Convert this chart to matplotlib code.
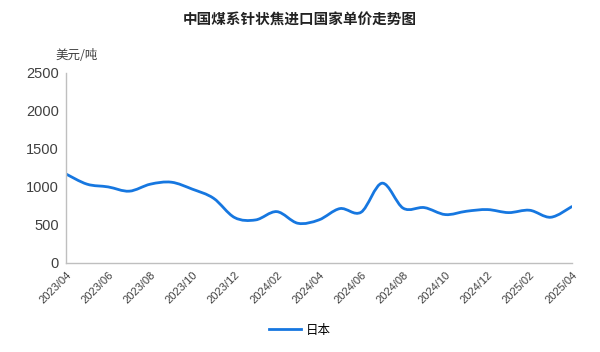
#!/usr/bin/env python3
"""China coal-based needle coke import unit price by country (Japan)."""
from __future__ import annotations

import matplotlib.pyplot as plt
from matplotlib.path import Path
from matplotlib.patches import PathPatch
from matplotlib.lines import Line2D

plt.rcParams["font.family"] = ["Noto Sans CJK SC", "DejaVu Sans"]

TITLE = "中国煤系针状焦进口国家单价走势图"
Y_UNIT = "美元/吨"
SERIES_NAME = "日本"
LINE_COLOR = "#1677e0"

MONTHS = [
    "2023/04", "2023/05", "2023/06", "2023/07", "2023/08", "2023/09", "2023/10",
    "2023/11", "2023/12", "2024/01", "2024/02", "2024/03", "2024/04", "2024/05",
    "2024/06", "2024/07", "2024/08", "2024/09", "2024/10", "2024/11", "2024/12",
    "2025/01", "2025/02", "2025/03", "2025/04",
]
PRICES = [
    1170, 1036, 1000, 944, 1036, 1062, 970, 851, 597, 566, 675, 522, 566, 715,
    667, 1049, 720, 728, 636, 680, 702, 662, 693, 601, 741,
]
Y_TICKS = [0, 500, 1000, 1500, 2000, 2500]


def smooth_path(xs, ys, tension=1 / 6):
    """Excel-like smoothed line as cubic Bezier segments through the points."""
    pts = list(zip(xs, ys))
    verts = [pts[0]]
    codes = [Path.MOVETO]
    n = len(pts)
    for i in range(n - 1):
        p0 = pts[i - 1] if i > 0 else pts[i]
        p1 = pts[i]
        p2 = pts[i + 1]
        p3 = pts[i + 2] if i + 2 < n else pts[i + 1]
        c1 = (p1[0] + (p2[0] - p0[0]) * tension, p1[1] + (p2[1] - p0[1]) * tension)
        c2 = (p2[0] - (p3[0] - p1[0]) * tension, p2[1] - (p3[1] - p1[1]) * tension)
        verts += [c1, c2, p2]
        codes += [Path.CURVE4] * 3
    return Path(verts, codes)


def main() -> None:
    fig = plt.figure(figsize=(6.0, 3.52), dpi=100)
    ax = fig.add_axes([0.11, 0.253, 0.843, 0.54])

    xs = list(range(len(MONTHS)))
    ax.add_patch(PathPatch(smooth_path(xs, PRICES), facecolor="none",
                           edgecolor=LINE_COLOR, linewidth=2.0, capstyle="round"))

    ax.set_xlim(0, len(MONTHS) - 1)
    ax.set_ylim(0, 2500)
    ax.set_yticks(Y_TICKS)
    ax.set_yticklabels([str(v) for v in Y_TICKS], fontsize=10.5, color="#404040",
                       family="Liberation Sans")
    ax.set_xticks(xs[::2])
    ax.set_xticklabels(MONTHS[::2], rotation=45, ha="right", rotation_mode="anchor",
                       fontsize=8, color="#404040", family="Liberation Sans")
    ax.tick_params(length=0, pad=5)

    for side in ("top", "right"):
        ax.spines[side].set_visible(False)
    for side in ("left", "bottom"):
        ax.spines[side].set_color("#bfbfbf")
        ax.spines[side].set_linewidth(1.0)

    fig.text(0.5, 0.945, TITLE, ha="center", va="center", fontsize=10.5,
             fontweight="bold", color="#222222")
    fig.text(0.092, 0.843, Y_UNIT, ha="left", va="center", fontsize=9, color="#404040")

    handle = Line2D([], [], color=LINE_COLOR, linewidth=2.0)
    fig.legend([handle], [SERIES_NAME], loc="center", bbox_to_anchor=(0.5, 0.062),
               frameon=False, fontsize=9, handlelength=2.6, handletextpad=0.4)

    fig.savefig("out.png", dpi=100)
    plt.close(fig)


if __name__ == "__main__":
    main()
